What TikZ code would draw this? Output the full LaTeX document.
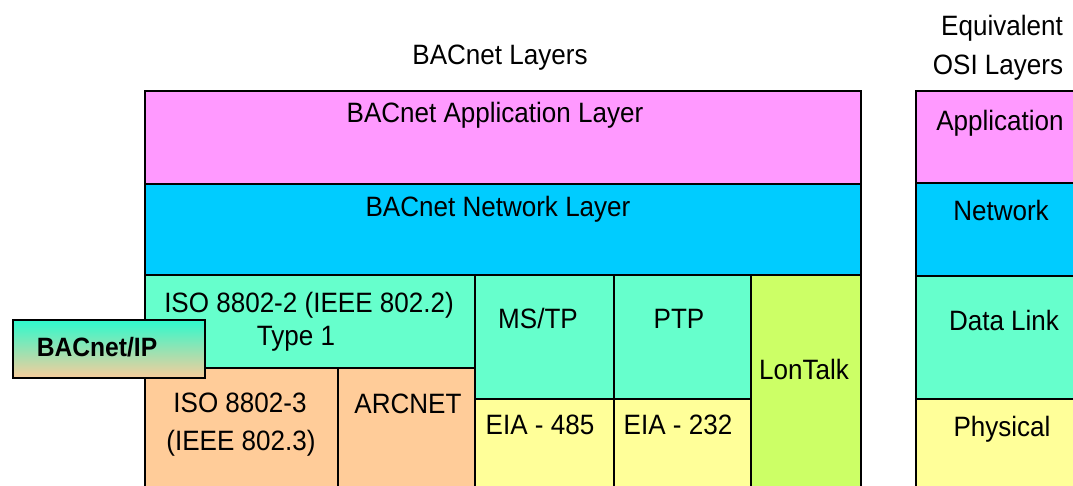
\documentclass[tikz,border=0pt]{standalone}
\usepackage{fontspec}
\setmainfont{Liberation Sans}[FakeStretch=0.93]

\definecolor{appcol}{HTML}{FF99FF}
\definecolor{netcol}{HTML}{00CCFF}
\definecolor{linkcol}{HTML}{66FFCC}
\definecolor{ethcol}{HTML}{FFCC99}
\definecolor{phycol}{HTML}{FFFF99}
\definecolor{loncol}{HTML}{CCFF66}
\definecolor{iptop}{HTML}{2EFACD}
\definecolor{ipbot}{HTML}{F8CC9A}

\tikzset{
  layer/.style={draw=black, line width=2.6pt},
  lbl/.style={anchor=base, inner sep=0pt, font=\fontsize{28}{32}\selectfont},
}

\begin{document}
\begin{tikzpicture}[x=1pt,y=-1pt]
  \useasboundingbox (0,0) rectangle (1073,486);
  \clip (0,0) rectangle (1073,486);

  % Headings
  \node[lbl] (bacTitle) at (500,65) {BACnet Layers};
  \node[lbl] (osiTitleA) at (1002,36) {Equivalent};
  \node[lbl] (osiTitleB) at (998,75) {OSI Layers};

  % BACnet stack, upper layers
  \draw[layer, fill=appcol] (145,91) rectangle (861,184);
  \node[lbl] (appLayer) at (495,123) {BACnet Application Layer};
  \draw[layer, fill=netcol] (145,184) rectangle (861,275);
  \node[lbl] (netLayer) at (498,217) {BACnet Network Layer};

  % Data link and physical options
  \draw[layer, fill=linkcol] (145,275) rectangle (475,368);
  \node[lbl] (llcA) at (309,312) {ISO 8802-2 (IEEE 802.2)};
  \node[lbl] (llcB) at (296,345) {Type 1};
  \draw[layer, fill=ethcol] (145,368) rectangle (338,500);
  \node[lbl] (ethA) at (240,412) {ISO 8802-3};
  \node[lbl] (ethB) at (241,450) {(IEEE 802.3)};
  \draw[layer, fill=ethcol] (338,368) rectangle (475,500);
  \node[lbl] (arcnet) at (408,413) {ARCNET};
  \draw[layer, fill=linkcol] (475,275) rectangle (614,399);
  \node[lbl] (mstp) at (538,328) {MS/TP};
  \draw[layer, fill=linkcol] (614,275) rectangle (751,399);
  \node[lbl] (ptp) at (679,328) {PTP};
  \draw[layer, fill=phycol] (475,399) rectangle (614,500);
  \node[lbl] (eia485) at (540,434) {EIA - 485};
  \draw[layer, fill=phycol] (614,399) rectangle (751,500);
  \node[lbl] (eia232) at (678,434) {EIA - 232};
  \draw[layer, fill=loncol] (751,275) rectangle (861,500);
  \node[lbl] (lontalk) at (804,379) {LonTalk};

  % Equivalent OSI stack
  \draw[layer, fill=appcol] (916,91) rectangle (1090,183);
  \node[lbl] (osiApp) at (1000,131) {Application};
  \draw[layer, fill=netcol] (916,183) rectangle (1090,276);
  \node[lbl] (osiNet) at (1001,221) {Network};
  \draw[layer, fill=linkcol] (916,276) rectangle (1090,399);
  \node[lbl] (osiLink) at (1004,330) {Data Link};
  \draw[layer, fill=phycol] (916,399) rectangle (1090,500);
  \node[lbl] (osiPhy) at (1002,436) {Physical};

  % BACnet/IP tab
  \shade[top color=iptop, bottom color=ipbot] (13,320) rectangle (205,378);
  \draw[layer] (13,320) rectangle (205,378);
  \node[lbl, font=\fontsize{26.5}{30}\selectfont\bfseries] (bacnetIP) at (97,356) {BACnet/IP};
\end{tikzpicture}
\end{document}
